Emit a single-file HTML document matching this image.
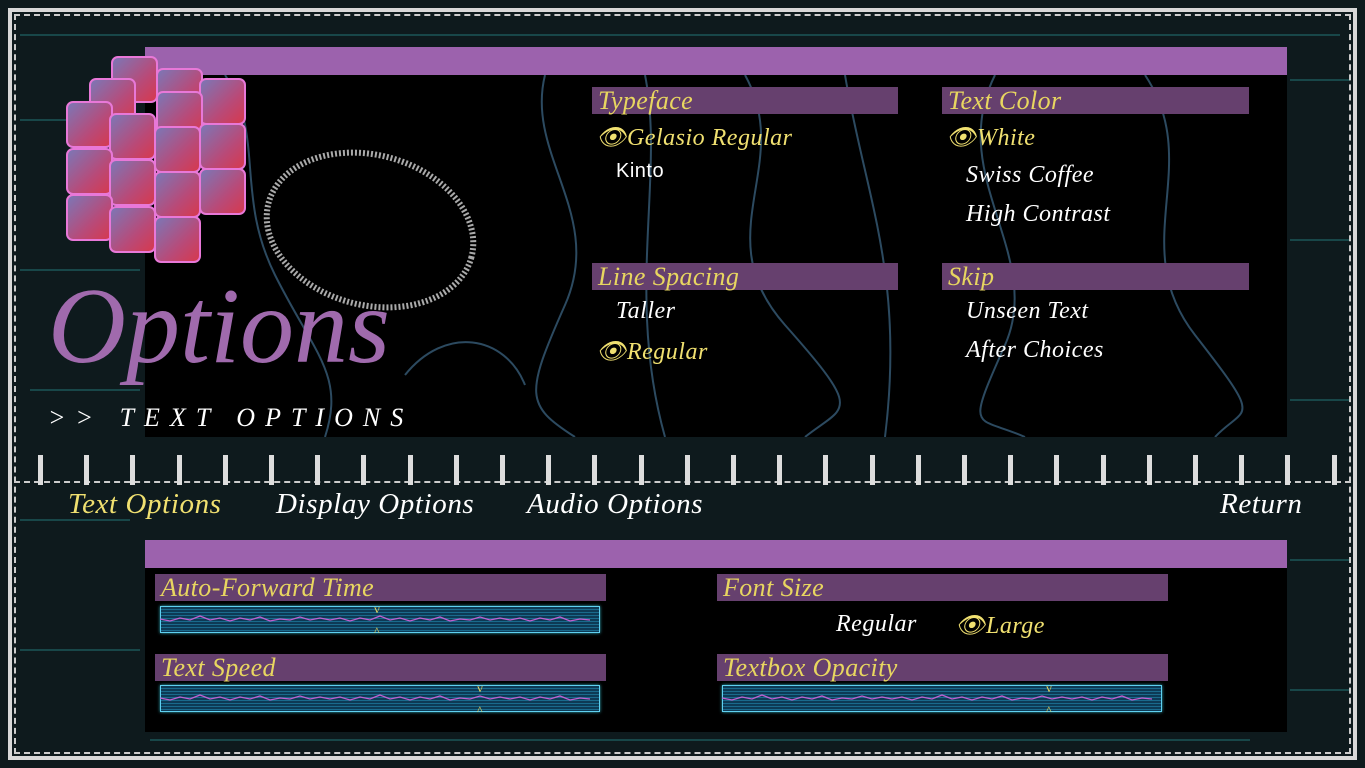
<!DOCTYPE html>
<html><head><meta charset="utf-8"><style>
*{margin:0;padding:0;box-sizing:border-box}
body{width:1365px;height:768px;overflow:hidden;background:#0e1a1d;position:relative;font-family:"Liberation Serif",serif;font-style:italic}
.a{position:absolute}
.hd{position:absolute;background:#66406e;color:#e8d660;font-size:26px;line-height:27px;padding-left:6px;white-space:nowrap;letter-spacing:0.4px}
.t{position:absolute;color:#fff;font-size:24px;white-space:nowrap;letter-spacing:0.5px}
.y{color:#f0e070}
.nv{font-size:29px;letter-spacing:0.6px}
.sl{position:absolute;border:1px solid #5fd0f0;background:repeating-linear-gradient(#0d3a55 0 2px,#1a6a8c 2px 3px);box-shadow:0 0 3px #3ab}
.tick{position:absolute;top:455px;width:5px;height:30px;background:#ddd}
.mk{position:absolute;color:#e8d660;font-size:12px;font-style:normal}
</style></head><body>
<svg class="a" style="left:0;top:0" width="1365" height="768"><g stroke="#1d5a5c" stroke-width="2" opacity=".7">
<path d="M20 270 h120 M30 390 h110 M20 120 h120 M1290 80 h60 M1290 240 h60 M1290 400 h60 M20 520 h110 M1290 560 h60 M20 650 h120 M1290 690 h60 M150 740 h1100 M20 35 h1320"/></g></svg>
<div class="a" style="left:8px;top:8px;width:1349px;height:752px;border:4px solid #d8d8d8"></div>
<div class="a" style="left:14px;top:14px;width:1337px;height:740px;border:2px dashed #ccc"></div>
<div class="a" style="left:145px;top:47px;width:1142px;height:28px;background:#9c62ad"></div>
<div class="a" style="left:145px;top:75px;width:1142px;height:362px;background:#000"></div>
<svg class="a" style="left:145px;top:75px" width="1142" height="362"><g fill="none" stroke="#2c4a60" stroke-width="2">
<path d="M80 0 C120 60 90 120 130 200 S200 300 180 362"/><path d="M400 0 C380 80 460 140 420 230 S380 330 430 362"/><path d="M600 0 C650 90 560 160 640 250 S700 330 660 362"/><path d="M850 0 C800 100 900 180 860 270 S830 340 880 362"/><path d="M1000 0 C1060 90 980 170 1050 260 S1100 330 1070 362"/><path d="M260 300 C300 250 360 260 380 310"/><path d="M700 0 C720 120 760 200 740 362"/><path d="M500 0 C520 100 480 220 520 362"/></g>
<ellipse cx="225" cy="155" rx="105" ry="75" transform="rotate(15 225 155)" fill="none" stroke="#aaa" stroke-width="6" stroke-dasharray="2 2"/></svg>
<svg class="a" style="left:60px;top:52px" width="195" height="220">
<defs><linearGradient id="g" x1="0" y1="0" x2="1" y2="1"><stop offset="0" stop-color="#7a78b8"/><stop offset=".6" stop-color="#b84a78"/><stop offset="1" stop-color="#d8384c"/></linearGradient></defs>
<g stroke="#e878d8" stroke-width="2" fill="url(#g)">
<rect x="52" y="5" width="45" height="45" rx="6"/><rect x="97" y="17" width="45" height="45" rx="6"/>
<rect x="30" y="27" width="45" height="45" rx="6"/><rect x="140" y="27" width="45" height="45" rx="6"/>
<rect x="97" y="40" width="45" height="45" rx="6"/>
<rect x="140" y="72" width="45" height="45" rx="6"/><rect x="140" y="117" width="45" height="45" rx="6"/>
<rect x="7" y="50" width="45" height="45" rx="6"/><rect x="50" y="62" width="45" height="45" rx="6"/><rect x="95" y="75" width="45" height="45" rx="6"/>
<rect x="7" y="97" width="45" height="45" rx="6"/><rect x="50" y="108" width="45" height="45" rx="6"/><rect x="95" y="120" width="45" height="45" rx="6"/>
<rect x="7" y="143" width="45" height="45" rx="6"/><rect x="50" y="155" width="45" height="45" rx="6"/><rect x="95" y="165" width="45" height="45" rx="6"/>
</g></svg>
<div class="a" style="left:48px;top:262px;font-size:108px;color:#a06aad;line-height:130px">Options</div>
<div class="a" style="left:48px;top:403px;font-size:26px;color:#fff;letter-spacing:10px">&gt;&gt; TEXT OPTIONS</div>

<div class="hd" style="left:592px;top:87px;width:306px">Typeface</div>
<div class="t y" style="left:596px;top:123px">👁Gelasio Regular</div>
<div class="t" style="left:616px;top:160px;font-style:normal;font-family:'Liberation Sans',sans-serif;font-size:20px">Kinto</div>
<div class="hd" style="left:942px;top:87px;width:307px">Text Color</div>
<div class="t y" style="left:946px;top:123px">👁White</div>
<div class="t" style="left:966px;top:162px">Swiss Coffee</div>
<div class="t" style="left:966px;top:201px">High Contrast</div>
<div class="hd" style="left:592px;top:263px;width:306px">Line Spacing</div>
<div class="t" style="left:616px;top:298px">Taller</div>
<div class="t y" style="left:596px;top:337px">👁Regular</div>
<div class="hd" style="left:942px;top:263px;width:307px">Skip</div>
<div class="t" style="left:966px;top:298px">Unseen Text</div>
<div class="t" style="left:966px;top:337px">After Choices</div>

<div class="a" style="left:14px;top:481px;width:1337px;border-top:2px dashed #ccc"></div>
<div id="ticks"></div>
<div class="t y nv" style="left:68px;top:488px">Text Options</div>
<div class="t nv" style="left:276px;top:488px">Display Options</div>
<div class="t nv" style="left:527px;top:488px">Audio Options</div>
<div class="t nv" style="left:1220px;top:488px">Return</div>

<div class="a" style="left:145px;top:540px;width:1142px;height:28px;background:#9c62ad"></div>
<div class="a" style="left:145px;top:568px;width:1142px;height:164px;background:#000"></div>
<div class="hd" style="left:155px;top:574px;width:451px">Auto-Forward Time</div>
<div class="sl" style="left:160px;top:606px;width:440px;height:27px"></div>
<div class="mk" style="left:374px;top:602px">v</div><div class="mk" style="left:374px;top:624px">^</div>
<div class="hd" style="left:155px;top:654px;width:451px">Text Speed</div>
<div class="sl" style="left:160px;top:685px;width:440px;height:27px"></div>
<div class="mk" style="left:477px;top:681px">v</div><div class="mk" style="left:477px;top:703px">^</div>
<div class="hd" style="left:717px;top:574px;width:451px">Font Size</div>
<div class="t" style="left:836px;top:611px">Regular</div>
<div class="t y" style="left:955px;top:611px">👁Large</div>
<div class="hd" style="left:717px;top:654px;width:451px">Textbox Opacity</div>
<div class="sl" style="left:722px;top:685px;width:440px;height:27px"></div>
<div class="mk" style="left:1046px;top:681px">v</div><div class="mk" style="left:1046px;top:703px">^</div>
<svg class="a" style="left:160px;top:606px" width="1002" height="110"><g fill="none" stroke="#c060d0" stroke-width="1.3">
<path d="M0 13 l10 2 10 -3 10 2 10 -4 10 4 10 -2 10 3 10 -3 10 2 10 -3 10 4 10 -2 10 1 10 -3 10 3 10 -2 10 2 10 -2 10 3 10 -3 10 2 10 -4 10 4 10 -2 10 3 10 -3 10 2 10 -3 10 4 10 -2 10 1 10 -3 10 3 10 -2 10 2 10 -2 10 3 10 -3 10 2 10 -3 10 4 10 -2 10 1"/>
<path d="M0 92 l10 2 10 -3 10 2 10 -4 10 4 10 -2 10 3 10 -3 10 2 10 -3 10 4 10 -2 10 1 10 -3 10 3 10 -2 10 2 10 -2 10 3 10 -3 10 2 10 -4 10 4 10 -2 10 3 10 -3 10 2 10 -3 10 4 10 -2 10 1 10 -3 10 3 10 -2 10 2 10 -2 10 3 10 -3 10 2 10 -3 10 4 10 -2 10 1"/>
<path d="M562 92 l10 2 10 -3 10 2 10 -4 10 4 10 -2 10 3 10 -3 10 2 10 -3 10 4 10 -2 10 1 10 -3 10 3 10 -2 10 2 10 -2 10 3 10 -3 10 2 10 -4 10 4 10 -2 10 3 10 -3 10 2 10 -3 10 4 10 -2 10 1 10 -3 10 3 10 -2 10 2 10 -2 10 3 10 -3 10 2 10 -3 10 4 10 -2 10 1"/></g></svg>
<script>
var h='';for(var x=38;x<1360;x+=46.2)h+='<div class="tick" style="left:'+Math.round(x)+'px"></div>';document.getElementById('ticks').innerHTML=h;
</script>
</body></html>
